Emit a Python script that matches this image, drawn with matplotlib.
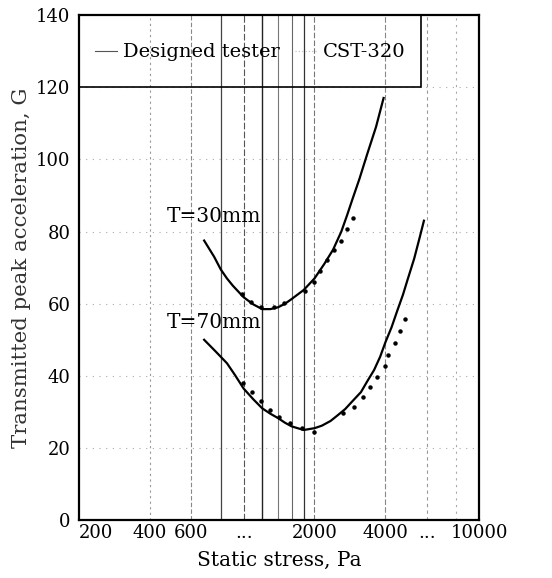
import matplotlib
matplotlib.use("Agg")
import matplotlib.pyplot as plt
from matplotlib.lines import Line2D
from matplotlib.patches import Rectangle
import numpy as np

plt.rcParams['font.family'] = ['DejaVu Serif']

# --- data ---
t30_design_x = [680, 750, 800, 850, 900, 1000, 1100, 1200, 1300, 1400, 1500, 1600, 1800, 2000,
                2200, 2400, 2600, 2750, 2900, 3100, 3350, 3650, 3930]
t30_design_y = [77.5, 73.0, 69.5, 67.0, 65.0, 61.8, 59.8, 58.5, 58.5, 59.0, 60.0, 61.3, 63.8, 67.0,
                71.0, 75.0, 80.0, 84.5, 89.0, 94.5, 101.5, 109.0, 117.0]
t30_cst_x = [980, 1070, 1190, 1340, 1480, 1830, 1990, 2120, 2270, 2410, 2580, 2760, 2900]
t30_cst_y = [62.7, 60.5, 59.0, 59.0, 60.2, 63.5, 66.0, 69.0, 72.0, 75.0, 77.5, 80.7, 83.7]

t70_design_x = [680, 760, 850, 920, 1000, 1100, 1200, 1300, 1400, 1500, 1600, 1800, 2000, 2150,
                2340, 2500, 2700, 2900, 3150, 3350, 3580, 3800, 4000, 4250, 4500, 4750, 4960,
                5300, 5600, 5830]
t70_design_y = [50.0, 46.8, 43.5, 40.2, 36.5, 33.5, 31.0, 29.5, 28.3, 27.0, 26.0, 25.0, 25.5, 26.2,
                27.5, 29.0, 30.8, 33.0, 35.5, 38.5, 41.6, 45.3, 49.3, 53.5, 58.2, 62.5, 66.5,
                72.5, 78.5, 83.0]
t70_cst_x = [990, 1090, 1190, 1290, 1410, 1580, 1770, 2000, 2640, 2930, 3200, 3430, 3690, 4000,
             4120, 4380, 4600, 4850]
t70_cst_y = [38.0, 35.5, 33.0, 30.5, 28.5, 26.9, 25.5, 24.4, 29.6, 31.3, 34.1, 36.9, 39.6, 42.7,
             45.7, 49.0, 52.4, 55.7]

x_ticks = [200, 400, 600, 1000, 2000, 4000, 6000, 10000]
x_ticklabels = ['200', '400', '600', '...', '2000', '4000', '...', '10000']
x_grid = [400, 600, 800, 1000, 1200, 1400, 1600, 1800, 2000, 4000, 6000, 8000]
y_ticks = [0, 20, 40, 60, 80, 100, 120, 140]
y_grid = [20, 40, 60, 80, 100, 120]
legend_labels = ['Designed tester', 'CST-320']

fig = plt.figure(figsize=(5.52, 5.78), dpi=100)
ax = fig.add_axes([0.143, 0.100, 0.725, 0.874])
ax.set_xscale('log')
ax.set_xlim(200, 10000)
ax.set_ylim(0, 140)

# grid
grid_styles = {400: ('#999999', (0, (2, 3)), 0.8), 600: ('#888888', (0, (4, 2)), 0.8),
               800: ('#444444', '-', 0.9), 1000: ('#555555', (0, (6, 2)), 0.8),
               1200: ('#222222', '-', 1.0), 1400: ('#777777', '-', 0.8),
               1600: ('#666666', '-', 0.8), 1800: ('#333333', '-', 0.9),
               2000: ('#777777', (0, (5, 2)), 0.8), 4000: ('#888888', (0, (5, 2)), 0.8),
               6000: ('#999999', (0, (3, 3)), 0.8), 8000: ('#aaaaaa', (0, (2, 4)), 0.8)}
for gx in x_grid:
    c, ls, lw = grid_styles[gx]
    ax.axvline(gx, color=c, ls=ls, lw=lw, zorder=1)
for gy in y_grid:
    ax.axhline(gy, color='#aaaaaa', ls=(0, (1, 5)), lw=0.8, zorder=1)

ax.plot(t30_design_x, t30_design_y, color='black', lw=1.6, zorder=3)
ax.plot(t70_design_x, t70_design_y, color='black', lw=1.6, zorder=3)
ax.plot(t30_cst_x, t30_cst_y, color='black', lw=0, marker='o', ms=2.2, zorder=3)
ax.plot(t70_cst_x, t70_cst_y, color='black', lw=0, marker='o', ms=2.2, zorder=3)

ax.text(470, 84.3, 'T=30mm', fontsize=14.5, ha='left', va='center')
ax.text(470, 54.8, 'T=70mm', fontsize=14.5, ha='left', va='center')

ax.set_xticks(x_ticks)
ax.set_xticklabels(x_ticklabels)
ax.xaxis.set_minor_locator(matplotlib.ticker.NullLocator())
ax.set_yticks(y_ticks)
ax.tick_params(axis='both', length=0, labelsize=13)
ax.tick_params(axis='x', pad=3)
ax.tick_params(axis='y', pad=6)
ax.get_xticklabels()[0].set_horizontalalignment('left')

for s in ax.spines.values():
    s.set_linewidth(1.6)
    s.set_color('black')

ax.set_xlabel('Static stress, Pa', fontsize=14.5, labelpad=6)
ax.set_ylabel('Transmitted peak acceleration, G', fontsize=15.3, labelpad=4, color='#333333')

# legend box frame (from axes top down to the 120 line)
ax.add_patch(Rectangle((0, 120 / 140), 0.855, 1 - 120 / 140, transform=ax.transAxes,
                       fill=False, edgecolor='black', lw=1.2, zorder=5, clip_on=False))
handles = [Line2D([], [], color='#555555', lw=0.8),
           Line2D([], [], color='#bbbbbb', lw=0.8, ls=(0, (1, 2)))]
leg = ax.legend(handles, legend_labels, loc='center left',
                bbox_to_anchor=(0, 0.926), ncol=2, frameon=False,
                borderaxespad=0, fontsize=14, handlelength=1.13, handletextpad=0.3,
                columnspacing=0.82, borderpad=0.82)
leg.set_zorder(5)

fig.savefig('out.png', dpi=100)
